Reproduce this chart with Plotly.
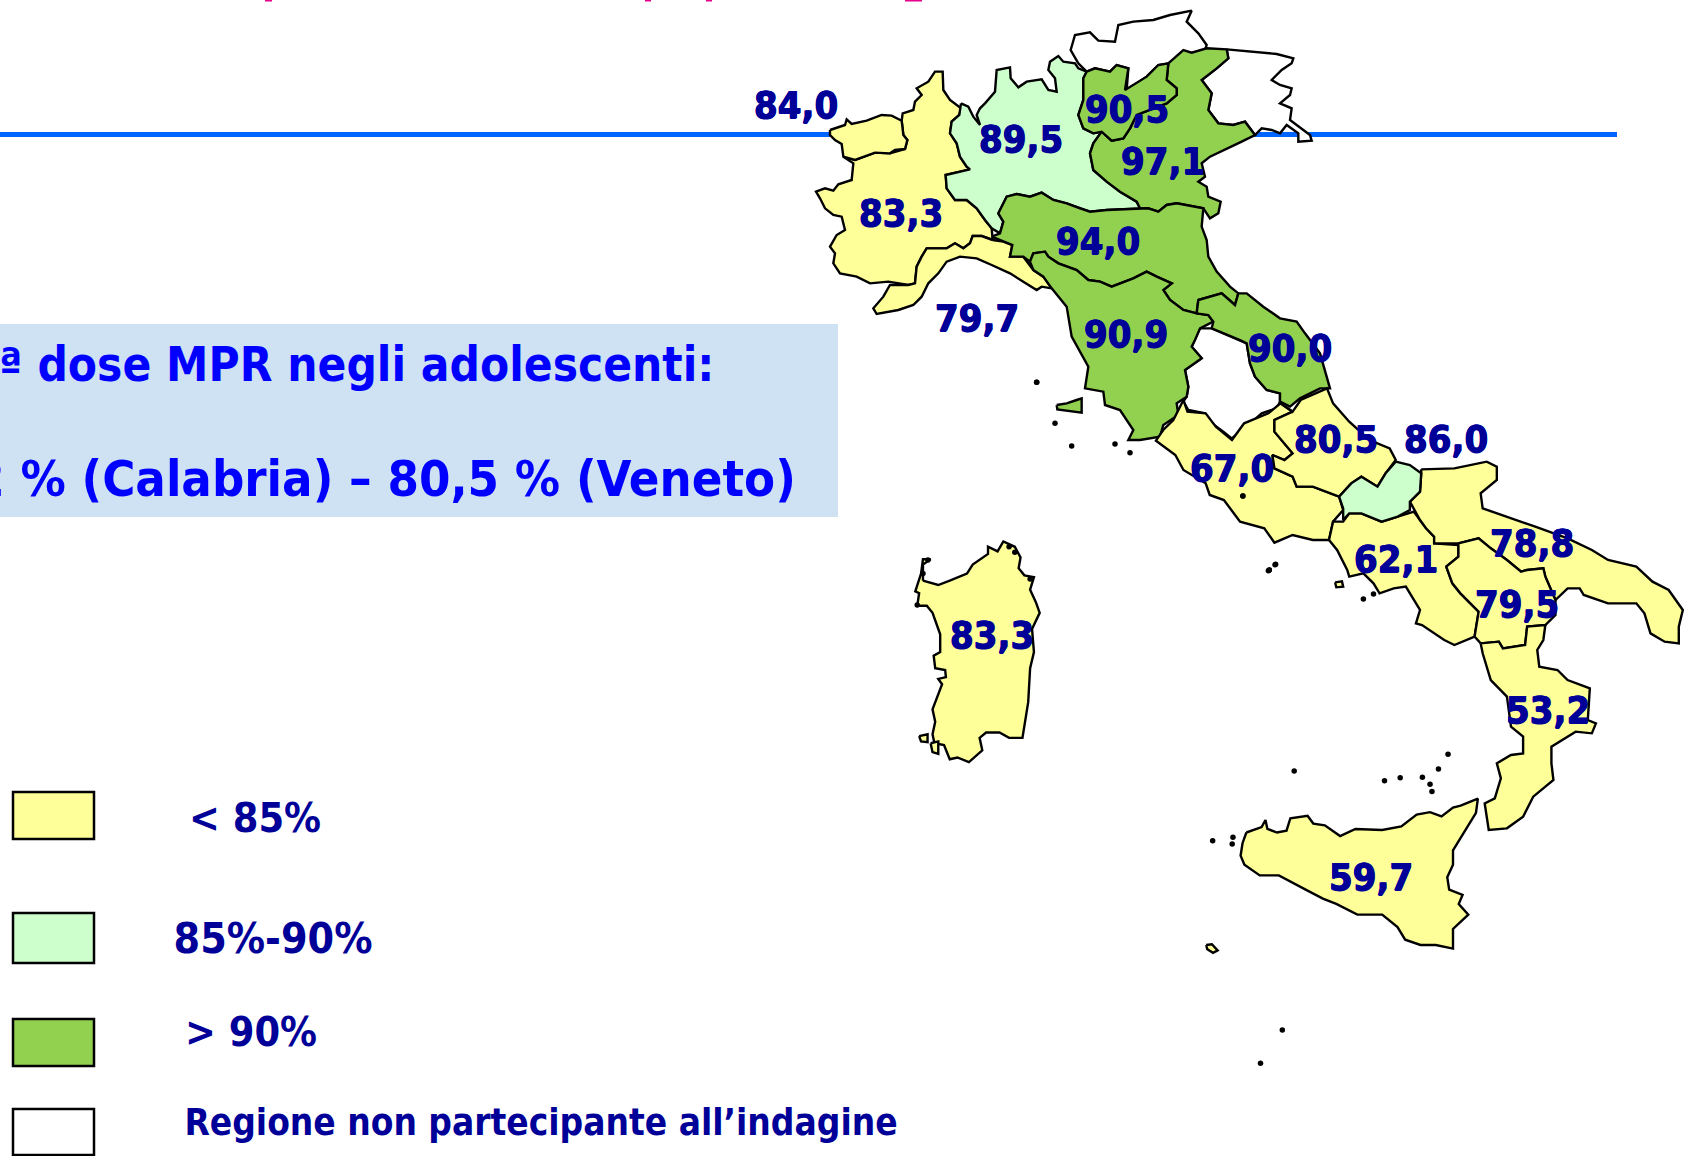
import plotly.graph_objects as go

W, H = 1684, 1156
YEL, LGR, GRN, WHT = "#FFFF99", "#CCFFCC", "#92D050", "#FFFFFF"
NAVY = "#000099"

# Region outlines; each list is in the units of the crop noted.
# crop A: origin (800,0), scale 3,3   crop B: origin (1050,380), scale 2.473,3   crop C: origin (900,520), scale 2.613,2.8
CROPS = {"A": (800, 0, 3, 3), "B": (1050, 380, 2.473, 3), "C": (900, 520, 2.613, 2.8)}

aosta = [(90,390),(135,375),(140,358),(155,372),(200,362),(245,345),(275,347),(305,362),(310,405),(322,420),(315,447),(285,450),(270,460),(225,458),(165,480),(130,470),(125,432),(105,420),(90,405)]
piemonte = [(305,362),(308,340),(340,330),(345,305),(365,285),(350,265),(385,245),(405,215),(428,215),(430,270),(450,300),(483,325),(478,345),(455,365),(450,400),(470,430),(480,470),(500,500),(510,508),(480,515),(437,525),(440,565),(465,600),(500,600),(530,625),(555,660),(575,685),(578,720),(545,708),(518,708),(510,730),(490,745),(465,730),(440,745),(410,745),(380,745),(365,770),(350,800),(345,850),(325,855),(265,845),(210,850),(170,830),(120,820),(100,790),(105,760),(90,740),(110,705),(135,690),(125,650),(100,645),(75,625),(60,595),(48,575),(75,565),(100,572),(115,553),(155,540),(160,490),(130,470),(165,480),(225,458),(270,460),(315,447),(322,420),(310,405)]
lombardia = [(483,310),(505,320),(520,350),(540,375),(530,345),(540,325),(555,310),(585,275),(590,210),(630,202),(632,235),(655,262),(680,245),(725,238),(745,270),(770,275),(765,235),(745,210),(750,185),(775,168),(790,185),(825,190),(835,205),(860,215),(850,235),(850,300),(835,345),(850,385),(880,400),(905,395),(880,430),(870,460),(880,510),(920,545),(960,575),(1010,605),(1020,625),(920,630),(870,635),(840,625),(800,610),(760,600),(725,578),(690,590),(650,582),(620,590),(595,640),(610,665),(600,700),(575,685),(555,660),(530,625),(500,600),(465,600),(440,565),(437,525),(480,515),(510,508),(500,500),(480,470),(470,430),(450,400),(455,365),(478,345)]
bolzano = [(835,190),(812,150),(825,105),(870,97),(895,122),(945,125),(955,75),(1000,65),(1060,60),(1110,45),(1175,32),(1160,65),(1195,100),(1220,135),(1215,150),(1150,165),(1105,190),(1075,195),(1040,230),(980,270),(985,205),(950,195),(930,215),(885,205),(860,215)]
trento = [(860,215),(885,205),(930,215),(950,195),(985,205),(975,270),(1040,230),(1075,195),(1105,190),(1100,240),(1130,265),(1130,285),(1100,310),(1010,345),(990,385),(970,415),(935,422),(905,395),(880,400),(850,385),(835,345),(850,300),(850,235)]
veneto = [(1105,190),(1150,150),(1175,158),(1220,145),(1280,148),(1285,175),(1250,205),(1205,240),(1235,280),(1225,330),(1255,370),(1300,375),(1335,365),(1365,405),(1325,425),(1270,450),(1230,470),(1205,490),(1215,530),(1195,545),(1220,560),(1225,590),(1262,605),(1255,640),(1230,655),(1210,625),(1130,610),(1100,615),(1075,635),(1045,625),(1020,625),(1010,605),(960,575),(920,545),(880,510),(870,460),(880,430),(905,395),(935,422),(970,415),(990,385),(1010,345),(1100,310),(1130,285),(1130,265),(1100,240)]
friuli = [(1280,148),(1350,155),(1430,162),(1480,175),(1475,190),(1445,210),(1415,240),(1440,255),(1475,265),(1470,285),(1440,310),(1475,325),(1470,360),(1490,375),(1530,405),(1535,422),(1495,425),(1495,400),(1460,375),(1440,400),(1415,390),(1385,385),(1365,405),(1335,365),(1300,375),(1255,370),(1225,330),(1235,280),(1205,240),(1250,205),(1285,175)]
liguria = [(578,720),(610,725),(637,735),(630,770),(670,770),(700,810),(730,830),(755,865),(725,860),(710,870),(670,845),(630,820),(575,795),(530,775),(480,770),(440,785),(415,820),(385,850),(365,890),(340,915),(295,930),(230,942),(220,925),(250,890),(270,855),(325,855),(345,850),(350,800),(365,770),(380,745),(410,745),(440,745),(465,730),(490,745),(510,730),(518,708),(545,708)]
emilia = [(575,710),(600,700),(610,665),(595,640),(620,590),(650,582),(690,590),(725,578),(760,600),(800,610),(840,625),(870,635),(920,630),(1020,625),(1045,625),(1075,635),(1100,615),(1130,610),(1210,625),(1205,680),(1220,720),(1225,770),(1250,815),(1290,860),(1315,880),(1305,915),(1265,880),(1195,900),(1190,940),(1150,930),(1110,900),(1090,870),(1115,850),(1070,830),(1040,815),(1000,835),(960,850),(935,860),(900,845),(865,840),(830,810),(775,790),(745,770),(735,755),(700,760),(690,785),(670,770),(630,770),(637,735),(610,725)]
umbria = [(1200,985),(1235,985),(1270,1000),(1320,1020),(1340,1030),(1350,1090),(1365,1130),(1400,1170),(1440,1180),(1440,1205),(1430,1225),(1385,1240),(1340,1280),(1295,1315),(1270,1295),(1235,1270),(1215,1240),(1165,1230),(1150,1205),(1160,1190),(1165,1160),(1155,1110),(1205,1075),(1175,1040),(1185,1020)]
toscana = [(690,785),(700,760),(735,755),(745,770),(775,790),(830,810),(865,840),(900,845),(935,860),(960,850),(1000,835),(1040,815),(1070,830),(1115,850),(1090,870),(1110,900),(1150,930),(1190,940),(1225,945),(1240,965),(1200,985),(1185,1020),(1175,1040),(1205,1075),(1155,1110),(1165,1160),(1160,1190),(1130,1210),(1135,1245),(1090,1275),(1080,1310),(1020,1320),(985,1320),(1000,1290),(960,1230),(915,1215),(910,1175),(855,1165),(865,1100),(815,1010),(800,920),(755,865),(730,830),(700,810)]
marche = [(1195,900),(1265,880),(1305,915),(1315,880),(1340,880),(1390,920),(1440,955),(1490,965),(1515,1000),(1560,1060),(1590,1165),(1560,1165),(1500,1195),(1470,1220),(1440,1205),(1440,1180),(1400,1170),(1365,1130),(1350,1090),(1340,1030),(1320,1020),(1270,1000),(1235,985),(1240,965),(1225,945),(1190,940)]

lazio = [(330,60),(340,95),(385,100),(410,140),(450,180),(480,130),(540,100),(570,70),(600,95),(555,120),(555,155),(580,190),(600,220),(580,240),(550,225),(555,265),(600,290),(610,320),(650,320),(715,350),(725,390),(700,425),(690,480),(650,480),(600,465),(555,488),(530,445),(470,425),(430,360),(395,345),(385,310),(330,270),(310,225),(262,182),(280,150),(305,120)]
abruzzo = [(570,70),(600,95),(620,60),(685,25),(700,70),(740,125),(790,180),(840,205),(855,240),(830,280),(810,320),(770,290),(745,310),(715,350),(650,320),(610,320),(600,290),(555,265),(550,225),(580,240),(600,220),(580,190),(555,155),(555,120),(600,95)]
molise = [(855,245),(890,255),(918,280),(915,335),(890,365),(890,390),(860,410),(820,425),(770,400),(740,400),(725,420),(725,385),(715,350),(745,310),(770,290),(810,320),(830,280)]
campania = [(690,480),(700,425),(725,425),(740,400),(770,400),(820,425),(860,410),(900,395),(915,420),(930,445),(950,470),(950,490),(1010,495),(1010,530),(980,560),(995,610),(1015,640),(1060,695),(1050,770),(1000,795),(975,780),(920,735),(905,730),(915,690),(880,620),(850,625),(815,640),(800,610),(775,580),(740,590),(735,570),(710,510)]
puglia = [(918,268),(1000,265),(1080,245),(1105,260),(1105,300),(1065,340),(1070,385),(1130,410),(1200,440),(1280,475),(1340,510),(1380,540),(1450,560),(1490,605),(1530,630),(1565,690),(1555,740),(1555,790),(1520,785),(1485,760),(1470,700),(1450,670),(1380,670),(1320,645),(1310,625),(1280,625),(1250,660),(1225,590),(1220,565),(1180,570),(1165,575),(1130,540),(1090,505),(1060,475),(1010,490),(950,490),(950,470),(930,445),(915,420),(890,365),(915,335),(918,280)]
basilicata = [(1010,490),(1060,475),(1090,505),(1130,540),(1165,575),(1180,570),(1220,565),(1225,590),(1250,660),(1250,705),(1225,735),(1180,740),(1175,795),(1120,805),(1110,785),(1065,790),(1050,770),(1060,695),(1015,640),(995,610),(980,560),(1010,530)]
calabria = [(1065,790),(1110,785),(1120,805),(1175,795),(1180,740),(1225,735),(1220,780),(1205,810),(1210,860),(1255,870),(1280,900),(1335,925),(1330,1020),(1350,1030),(1340,1060),(1300,1055),(1240,1100),(1240,1150),(1245,1200),(1195,1250),(1170,1310),(1130,1345),(1085,1350),(1075,1270),(1100,1255),(1115,1195),(1105,1150),(1140,1125),(1170,1120),(1170,1070),(1140,1040),(1130,950),(1090,900),(1070,820)]

sardegna = [(60,170),(100,182),(130,170),(175,150),(190,125),(230,95),(230,75),(255,88),(270,60),(300,75),(315,105),(310,135),(325,155),(350,160),(340,195),(355,230),(365,260),(345,305),(350,370),(340,415),(335,510),(325,570),(320,610),(285,610),(260,595),(225,595),(208,610),(215,645),(180,678),(150,665),(130,670),(115,630),(90,625),(85,600),(92,565),(85,530),(100,490),(110,460),(100,445),(120,440),(118,420),(92,415),(88,380),(105,370),(105,320),(85,260),(70,240),(45,240),(50,205),(40,200),(55,150),(60,110),(80,110),(60,125)]
sicilia = [(905,875),(945,860),(955,840),(960,865),(985,875),(1010,870),(1020,835),(1065,828),(1080,850),(1110,855),(1150,885),(1190,865),(1260,868),(1310,858),(1350,825),(1385,818),(1415,830),(1445,805),(1465,800),(1510,780),(1505,820),(1465,890),(1445,925),(1445,965),(1430,1000),(1435,1035),(1470,1050),(1460,1075),(1485,1105),(1445,1145),(1445,1200),(1400,1190),(1360,1190),(1320,1175),(1300,1140),(1260,1105),(1195,1105),(1140,1075),(1105,1060),(1060,1035),(1015,1010),(990,995),(940,995),(900,965),(890,940),(895,905)]
elba = [(770,1215),(800,1210),(830,1200),(845,1195),(845,1238),(800,1232),(772,1228)]
ischia = [(705,607),(722,604),(725,620),(708,622)]
pantelleria = [(800,1190),(815,1188),(830,1205),(818,1212),(803,1202)]
sant_antioco = [(50,605),(72,600),(72,622),(55,620)]
carloforte = [(80,625),(100,620),(100,655),(85,650)]

# (name, outline, crop, fill) in drawing order
REGIONS = [
    ("Piemonte", piemonte, "A", YEL), ("Valle d'Aosta", aosta, "A", YEL),
    ("Lombardia", lombardia, "A", LGR), ("Bolzano", bolzano, "A", WHT), ("Friuli", friuli, "A", WHT),
    ("Veneto", veneto, "A", GRN), ("Trento", trento, "A", GRN), ("Liguria", liguria, "A", YEL),
    ("Emilia-Romagna", emilia, "A", GRN), ("Umbria", umbria, "A", WHT), ("Toscana", toscana, "A", GRN),
    ("Marche", marche, "A", GRN), ("Lazio", lazio, "B", YEL), ("Abruzzo", abruzzo, "B", YEL),
    ("Campania", campania, "B", YEL), ("Puglia", puglia, "B", YEL), ("Molise", molise, "B", LGR),
    ("Basilicata", basilicata, "B", YEL), ("Calabria", calabria, "B", YEL),
    ("Sardegna", sardegna, "C", YEL), ("Sicilia", sicilia, "C", YEL),
    ("Elba", elba, "A", GRN), ("Ischia", ischia, "B", YEL), ("Pantelleria", pantelleria, "C", YEL),
    ("Sant'Antioco", sant_antioco, "C", YEL), ("Carloforte", carloforte, "C", YEL),
]

islets_a = [(710,1147),(765,1270),(815,1338),(945,1332),(990,1358)]
islets_b = [(477,348),(540,572),(558,553),(775,657),(800,642)]
islets_c = [(965,140),(980,125),(1432,656),(1407,697),(1030,703),(1266,730),(1307,722),(1365,720),(1385,740),(1390,760),(817,898),(870,888),(868,907),(999,1428),(942,1521),(73,112),(45,238),(285,75),(300,90),(340,165),(60,150)]

value_labels = ["84,0","89,5","90,5","97,1","83,3","94,0","79,7","90,9","90,0","80,5","86,0","67,0","62,1","78,8","79,5","53,2","83,3","59,7"]
label_x = [796,1021,1127,1163,901,1098,977,1126,1290,1336,1446,1232,1396,1532,1517,1548,992,1371]
label_y = [108.5,142.5,112.5,164.5,216.5,244.5,321.5,337.5,351.5,442.5,442.5,471.5,562.5,546.5,607.5,713.5,638.5,880.5]

legend_text = ["< 85%", "85%-90%", "> 90%", "Regione non partecipante all’indagine"]
legend_fill = [YEL, LGR, GRN, WHT]
legend_top = [792, 913, 1019, 1109]
legend_bottom = [839, 963, 1066, 1155]
legend_text_x = [255, 273, 251, 541]
legend_text_y = [822, 942, 1036, 1126]
legend_size = [41, 42.5, 41, 36.7]

box_lines = ["2ª dose MPR negli adolescenti:", "53,2 % (Calabria) – 80,5 % (Veneto)"]
box_right = [716, 798]
box_y = [364, 478]
box_size = [47.3, 50.3]

title_trace_x = [265, 272, None, 645, 651, None, 706, 712, None, 905, 922]
title_trace_y = [0, 0, None, 0, 0, None, 0, 0, None, 0, 0]

FONT = "DejaVu Sans Condensed, DejaVu Sans"


def conv(points, crop):
    ox, oy, sx, sy = CROPS[crop]
    xs = [ox + p[0] / sx for p in points]
    ys = [oy + p[1] / sy for p in points]
    return xs + xs[:1], ys + ys[:1]


fig = go.Figure()
for name, outline, crop, fill in REGIONS:
    xs, ys = conv(outline, crop)
    fig.add_trace(go.Scatter(x=xs, y=ys, mode="lines", fill="toself", fillcolor=fill, name=name,
                             line=dict(color="black", width=2.4), hoverinfo="name"))

for pts, crop in ((islets_a, "A"), (islets_b, "B"), (islets_c, "C")):
    xs, ys = conv(pts, crop)
    fig.add_trace(go.Scatter(x=xs, y=ys, mode="markers", marker=dict(color="black", size=5.5), hoverinfo="skip"))

fig.add_trace(go.Scatter(x=title_trace_x, y=title_trace_y, mode="lines", line=dict(color="#E6008C", width=3),
                         hoverinfo="skip", cliponaxis=False))

heavy = "0.6px 0 0 #000099, -0.4px 0 0 #000099, 0 0.5px 0 #000099"
fig.add_trace(go.Scatter(x=label_x, y=label_y, mode="text", text=value_labels, textposition="middle center",
                         textfont=dict(family=FONT, size=38, color=NAVY, weight="bold", shadow=heavy), hoverinfo="skip"))
fig.add_trace(go.Scatter(x=legend_text_x, y=legend_text_y, mode="text", text=legend_text, textposition="middle center",
                         textfont=dict(family=FONT, size=legend_size, color=NAVY, weight="bold"), hoverinfo="skip"))

shapes = [
    dict(type="rect", x0=0, x1=838, y0=324, y1=517, fillcolor="#CFE2F3", line_width=0, layer="below"),
    dict(type="line", x0=0, x1=1617, y0=134.5, y1=134.5, line=dict(color="#0066FF", width=5), layer="below"),
]
for fc, t, b in zip(legend_fill, legend_top, legend_bottom):
    shapes.append(dict(type="rect", x0=13, x1=94, y0=t, y1=b, fillcolor=fc, line=dict(color="black", width=2.5)))

annotations = [dict(x=r, y=y, text=f"<b>{t}</b>", showarrow=False, xanchor="right", yanchor="middle",
                    font=dict(family=FONT, size=s, color="#0000FF"))
               for t, r, y, s in zip(box_lines, box_right, box_y, box_size)]

fig.update_layout(
    width=W, height=H, margin=dict(l=0, r=0, t=0, b=0), showlegend=False,
    paper_bgcolor="white", plot_bgcolor="white", shapes=shapes, annotations=annotations,
    xaxis=dict(range=[0, W], visible=False, fixedrange=True),
    yaxis=dict(range=[H, 0], visible=False, fixedrange=True),
)
fig.write_html("out.html", config={"displayModeBar": False},
               post_script="document.body.style.margin='0';document.documentElement.style.overflow='hidden';")
